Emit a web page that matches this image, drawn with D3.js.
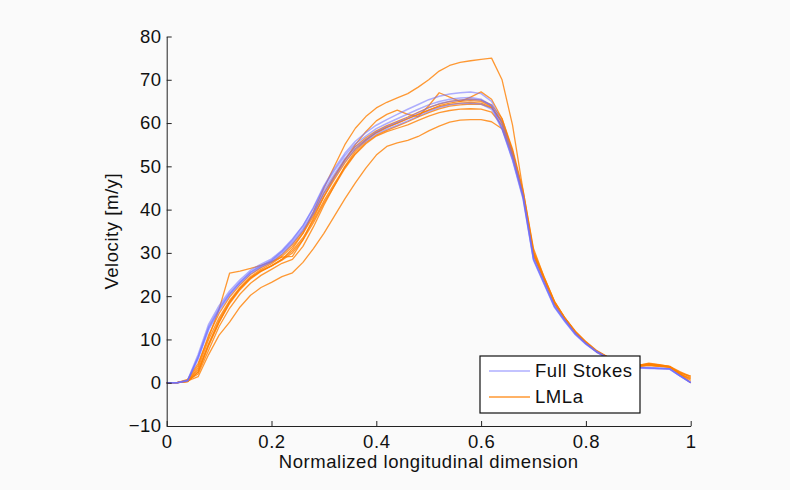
<!DOCTYPE html>
<html>
<head>
<meta charset="utf-8">
<script src="https://cdn.jsdelivr.net/npm/d3@7"></script>
<style>
  html, body { margin: 0; padding: 0; background: #fafafa; }
  svg { display: block; font-family: "Liberation Sans", Arial, Helvetica, sans-serif; }
</style>
</head>
<body>
<div id="chart"></div>
<script>
// normalized longitudinal positions (shared by every run)
var xs = [0, 0.02, 0.04, 0.06, 0.08, 0.10, 0.12, 0.14, 0.16, 0.18,
          0.20, 0.22, 0.24, 0.26, 0.28, 0.30, 0.32, 0.34, 0.36, 0.38,
          0.40, 0.42, 0.44, 0.46, 0.48, 0.50, 0.52, 0.54, 0.56, 0.58,
          0.60, 0.62, 0.64, 0.66, 0.68, 0.70, 0.72, 0.74, 0.76, 0.78,
          0.80, 0.82, 0.84, 0.86, 0.88, 0.90, 0.92, 0.94, 0.96, 0.98, 1.00];

// Full Stokes velocity runs [m/y]
var fsA = [0, 0, 0.5, 6, 12.9, 17.2, 20.7, 23.3, 25.6, 27, 28.2, 30.2, 32.6, 35.6, 39.5, 44.5, 48.2, 51.8, 54.5, 56.2, 58, 59.2, 60.2, 61.2, 62.4, 63.5, 64.5, 65, 65.3, 65.5, 65.3, 64, 59, 51.8, 43, 28.5, 23, 17.6, 14.3, 11.2, 9, 7.2, 5.8, 4.8, 4, 3.5, 3.4, 3.3, 3.2, 1.6, 0];
var fsB = [0, 0, 0.6, 6.5, 13.5, 17.8, 21.2, 23.8, 26, 27.4, 28.6, 30.6, 33.2, 36.3, 40.3, 45.2, 49, 52.5, 55.2, 57, 58.7, 59.9, 61, 62.1, 63.2, 64.2, 65, 65.5, 65.8, 65.9, 65.5, 64, 58.6, 51.4, 42.5, 28.3, 22.8, 17.4, 14.1, 11.1, 8.9, 7.1, 5.8, 4.8, 4, 3.5, 3.4, 3.3, 3.2, 1.5, 0];
var fsC = [0, 0, 0.5, 5.8, 12.6, 17, 20.5, 23.2, 25.5, 27, 28.3, 30.4, 33, 36.2, 40.5, 45.5, 49.5, 53, 55.8, 57.8, 59.5, 60.8, 62, 63.2, 64.3, 65.4, 66.2, 66.7, 67, 67.2, 66.8, 65, 60, 52.8, 43.5, 29, 23.4, 17.9, 14.5, 11.4, 9.1, 7.3, 5.9, 4.9, 4.1, 3.6, 3.5, 3.4, 3.2, 1.6, 0];
var fsD = [0, 0, 0.4, 5.5, 12.2, 16.6, 20.2, 22.9, 25.2, 26.7, 27.9, 29.8, 32.2, 35.2, 39, 43.8, 47.5, 51.2, 54, 55.8, 57.5, 58.6, 59.5, 60.5, 61.6, 62.7, 63.6, 64.2, 64.5, 64.6, 64.4, 63.2, 58.6, 51.6, 42.8, 28.6, 23.1, 17.6, 14.2, 11.2, 8.9, 7.1, 5.7, 4.7, 3.9, 3.4, 3.3, 3.2, 3.1, 1.5, 0];

// LMLa velocity runs [m/y]
var lmA = [0, 0, 0.3, 2.5, 8.5, 14, 18.5, 21.8, 24.2, 25.8, 27, 28.5, 31, 34.5, 39.5, 45, 50, 55, 58.8, 61.5, 63.5, 64.8, 65.8, 66.8, 68.3, 70, 72, 73.3, 74, 74.4, 74.7, 75, 70, 59.5, 44.5, 31, 24.5, 18.8, 14.9, 11.8, 9.4, 7.4, 6, 5, 4.3, 4, 4.3, 4, 3.6, 2.4, 1.2];
var lmB = [0, 0, 0.8, 4.5, 10.5, 17, 25.3, 25.8, 26.4, 27.1, 28, 29, 29.2, 33, 38, 43, 47.5, 51.5, 55, 58, 60.5, 62, 63, 62, 61.5, 64, 67, 66, 65, 66, 67.2, 65.5, 61, 53.5, 43.5, 29.5, 23.8, 18.3, 14.7, 11.5, 9.2, 7.2, 6, 5, 4.3, 4, 4.5, 4.2, 3.8, 1.8, 0];
var lmC = [0, 0, 0.3, 3.5, 10, 15, 19, 22, 24.5, 26.2, 27.5, 29.2, 31.5, 34.5, 38.5, 43, 47, 50.8, 54, 56.2, 57.8, 59, 60, 61, 62, 63, 64, 64.6, 65, 65.2, 65, 63.8, 60, 53, 43.5, 29.5, 24, 18.4, 14.8, 11.6, 9.2, 7.2, 5.9, 4.9, 4.2, 3.8, 4, 3.8, 3.6, 2, 0.5];
var lmD = [0, 0, 0.2, 2.5, 8.8, 14, 18.3, 21.5, 24, 25.7, 27, 28.5, 30.5, 33.5, 37.5, 42, 46, 49.8, 53, 55.5, 57.2, 58.3, 59.3, 60.3, 61.4, 62.4, 63.3, 63.9, 64.2, 64.4, 64.3, 63.5, 60.5, 53.5, 44, 30, 24.2, 18.6, 14.9, 11.7, 9.3, 7.3, 6, 5, 4.3, 3.9, 4.2, 4, 3.7, 2.2, 1.5];
var lmE = [0, 0, 0.4, 3, 9, 14.5, 18.7, 21.8, 24.2, 25.9, 27, 28.3, 30, 33, 37, 41.5, 45.5, 49.5, 52.8, 55.2, 57, 58, 58.8, 59.6, 60.6, 61.6, 62.4, 62.9, 63.2, 63.3, 63.2, 62.5, 59.5, 52.5, 43.2, 29.6, 24, 18.4, 14.8, 11.6, 9.2, 7.2, 5.9, 4.9, 4.2, 3.8, 4.1, 3.9, 3.6, 2, 1];
var lmF = [0, 0, 0.5, 2, 7.5, 13, 17.2, 20.5, 23, 24.8, 26.2, 27.6, 28.5, 31.5, 36, 41, 45.5, 50, 53.5, 56, 57.8, 59, 60, 61, 62, 63, 63.8, 64.3, 64.6, 64.8, 64.6, 63.6, 60.2, 53.2, 43.8, 30, 24.2, 18.5, 14.9, 11.7, 9.3, 7.3, 6, 5, 4.3, 3.9, 4.3, 4, 3.7, 2, 0];
var lmG = [0, 0, 0.4, 1.4, 6.5, 11, 14, 17.5, 20.2, 22, 23.2, 24.5, 25.4, 27.8, 31, 34.5, 38.5, 42.5, 46.2, 49.6, 52.6, 54.6, 55.4, 56, 56.9, 58.2, 59.3, 60.2, 60.7, 60.8, 60.8, 60.3, 58.7, 52.5, 43.5, 29.8, 24, 18.4, 14.8, 11.6, 9.2, 7.2, 5.9, 4.9, 4.2, 3.8, 4, 3.8, 3.6, 2, 0.8];
var lmH = [0, 0, 0.6, 4, 11, 16, 19.8, 22.6, 25, 26.6, 27.8, 29.6, 32, 35, 39, 43.8, 47.8, 51.5, 54.6, 56.6, 58.2, 59.4, 60.4, 61.4, 62.5, 63.6, 64.4, 65, 65.3, 65.5, 65.3, 64.2, 61, 54, 44.5, 30.5, 24.5, 18.8, 15, 11.9, 9.5, 7.5, 6.1, 5.1, 4.4, 4, 4.4, 4.1, 3.8, 2.5, 1.5];

var fsRuns = [fsA, fsB, fsC, fsD];
var lmRuns = [lmA, lmB, lmC, lmD, lmE, lmF, lmG, lmH];

var xTicks = [0, 0.2, 0.4, 0.6, 0.8, 1];
var yTicks = [-10, 0, 10, 20, 30, 40, 50, 60, 70, 80];
var legendLabels = ["Full Stokes", "LMLa"];

function init() {
    const w = 790;
    const h = 490;
    const left = 166.7, right = 690.7, top = 36.5, bottom = 426;
    const fontSize = 18.5, spacing = "0.55px";

    var fsColor = "rgba(110,110,255,0.55)";
    var lmColor = "rgba(255,128,0,0.8)";

    var svg = d3.select("#chart")
        .append("svg")
        .attr("width", w)
        .attr("height", h);

    var x = d3.scaleLinear().domain([0, 1]).range([left, right]);
    var y = d3.scaleLinear().domain([-10, 80]).range([bottom, top]);

    var line = d3.line()
        .x(function (d) { return x(d[0]); })
        .y(function (d) { return y(d[1]); });

    function pairs(vals) {
        return xs.map(function (v, i) { return [v, vals[i]]; });
    }

    // LMLa runs underneath, Full Stokes on top
    svg.append("g").selectAll("path")
        .data(lmRuns)
        .enter()
        .append("path")
        .attr("fill", "none")
        .attr("stroke", lmColor)
        .attr("stroke-width", 1.3)
        .attr("stroke-linejoin", "round")
        .attr("d", function (d) { return line(pairs(d)); });

    svg.append("g").selectAll("path")
        .data(fsRuns)
        .enter()
        .append("path")
        .attr("fill", "none")
        .attr("stroke", fsColor)
        .attr("stroke-width", 1.5)
        .attr("stroke-linejoin", "round")
        .attr("d", function (d) { return line(pairs(d)); });

    // axes, ticks pointing inwards
    var xAxis = svg.append("g")
        .attr("transform", "translate(0," + bottom + ")")
        .call(d3.axisBottom(x).tickValues(xTicks).tickSize(-5).tickSizeOuter(0).tickPadding(9)
            .tickFormat(d3.format("")));

    var yAxis = svg.append("g")
        .attr("transform", "translate(" + left + ",0)")
        .call(d3.axisLeft(y).tickValues(yTicks).tickSize(-5).tickSizeOuter(0).tickPadding(5));

    [xAxis, yAxis].forEach(function (g) {
        g.selectAll("text").attr("font-size", fontSize).attr("fill", "#111")
            .attr("letter-spacing", spacing)
            .attr("font-family", "'Liberation Sans', Arial, sans-serif");
        g.selectAll("line").attr("stroke", "#222");
        g.select(".domain").attr("stroke", "#222");
    });

    svg.append("text")
        .attr("x", (left + right) / 2)
        .attr("y", 468)
        .attr("text-anchor", "middle")
        .attr("font-size", fontSize)
        .attr("letter-spacing", spacing)
        .attr("fill", "#111")
        .text("Normalized longitudinal dimension");

    svg.append("text")
        .attr("transform", "translate(118," + ((top + bottom) / 2) + ") rotate(-90)")
        .attr("text-anchor", "middle")
        .attr("font-size", fontSize)
        .attr("letter-spacing", spacing)
        .attr("fill", "#111")
        .text("Velocity [m/y]");

    // legend
    var lg = svg.append("g").attr("transform", "translate(480,356)");
    lg.append("rect")
        .attr("width", 160)
        .attr("height", 57)
        .attr("fill", "#fff")
        .attr("stroke", "#111")
        .attr("stroke-width", 1.2);

    var items = lg.selectAll("g.item")
        .data(legendLabels)
        .enter()
        .append("g")
        .attr("class", "item")
        .attr("transform", function (d, i) { return "translate(0," + (15 + i * 26) + ")"; });

    items.append("line")
        .attr("x1", 9)
        .attr("x2", 50)
        .attr("stroke", function (d, i) { return i === 0 ? fsColor : lmColor; })
        .attr("stroke-width", 1.4);

    items.append("text")
        .attr("x", 55)
        .attr("dy", "0.35em")
        .attr("font-size", fontSize)
        .attr("letter-spacing", spacing)
        .attr("fill", "#111")
        .text(function (d) { return d; });
}
window.onload = init;
</script>
</body>
</html>
